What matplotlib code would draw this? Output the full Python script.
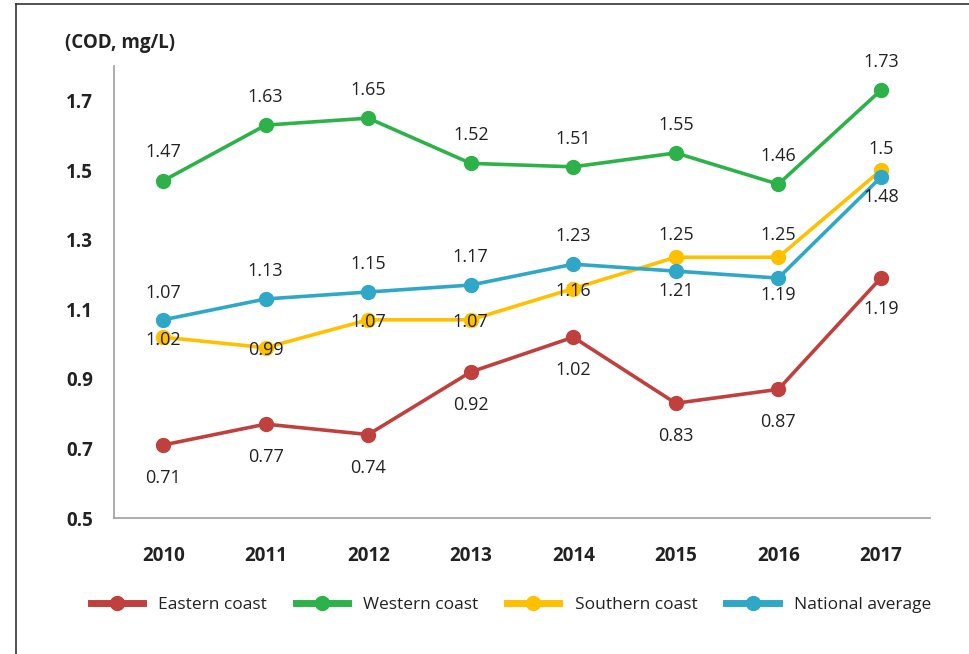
import matplotlib
matplotlib.use("Agg")
import matplotlib.pyplot as plt
from matplotlib.lines import Line2D

years = ["2010", "2011", "2012", "2013", "2014", "2015", "2016", "2017"]
eastern = [0.71, 0.77, 0.74, 0.92, 1.02, 0.83, 0.87, 1.19]
western = [1.47, 1.63, 1.65, 1.52, 1.51, 1.55, 1.46, 1.73]
southern = [1.02, 0.99, 1.07, 1.07, 1.16, 1.25, 1.25, 1.50]
national = [1.07, 1.13, 1.15, 1.17, 1.23, 1.21, 1.19, 1.48]
series_names = ["Eastern coast", "Western coast", "Southern coast", "National average"]
yticks = [0.5, 0.7, 0.9, 1.1, 1.3, 1.5, 1.7]
ylabel = "(COD, mg/L)"

colors = ["#C0403D", "#2DB24A", "#FFC000", "#2FA8C8"]
# label vertical offsets in pixels (positive = up)
offsets = [
    [-33, -33, -33, -33, -33, -33, -33, -31],
    [29, 28, 28, 28, 28, 28, 28, 28],
    [-3, -2, -2, -2, -2, 22, 22, 21],
    [27, 28, 28, 28, 28, -20, -17, -20],
]

plt.rcParams['font.family'] = ['Open Sans', 'DejaVu Sans']

fig = plt.figure(figsize=(9.69, 6.54), dpi=100)
ax = fig.add_axes([114/969, 1-518/654, (930-114)/969, (518-66)/654])

x = list(range(len(years)))
data = [eastern, western, southern, national]
handles = []
for vals, c, name, offs in zip(data, colors, series_names, offsets):
    h, = ax.plot(x, vals, color=c, lw=2.6, marker='o', ms=10, label=name, zorder=3)
    handles.append(h)
    for xi, v, o in zip(x, vals, offs):
        ax.annotate(f"{v:g}", (xi, v), xytext=(0, o), textcoords='offset pixels',
                    ha='center', va='center', fontsize=13, color='#222222', zorder=5)

ax.set_xlim(-0.48, 7.48)
ax.set_ylim(0.5, 1.8)
ax.set_xticks(x)
ax.set_xticklabels(years, fontweight='bold', fontsize=13.5)
ax.set_yticks(yticks)
ax.set_yticklabels([f"{t:.1f}" for t in yticks], fontweight='bold', fontsize=13.5)
ax.tick_params(axis='both', length=0, colors='#222222')
ax.tick_params(axis='x', pad=20)
ax.tick_params(axis='y', pad=15)
for s in ['top', 'right']:
    ax.spines[s].set_visible(False)
for s in ['left', 'bottom']:
    ax.spines[s].set_color('#A6A6A6')
    ax.spines[s].set_linewidth(1.3)

fig.text(65/969, 1-43/654, ylabel, fontsize=13.5, fontweight='bold', color='#222222',
         ha='left', va='center')

leg = fig.legend(handles=handles, loc='center', bbox_to_anchor=(511/969, 1-605/654),
                 ncol=4, frameon=False, fontsize=12.5, handlelength=3.0,
                 handletextpad=0.9, columnspacing=1.65)
for h in leg.legend_handles:
    h.set_linewidth(5)
for t in leg.get_texts():
    t.set_color('#222222')

fig.add_artist(Line2D([16/969, 16/969], [0, 1-4/654], transform=fig.transFigure,
                      color='#333333', lw=1.2))
fig.add_artist(Line2D([16/969, 1], [1-4/654, 1-4/654], transform=fig.transFigure,
                      color='#333333', lw=1.2))

fig.savefig("out.png", dpi=100)
